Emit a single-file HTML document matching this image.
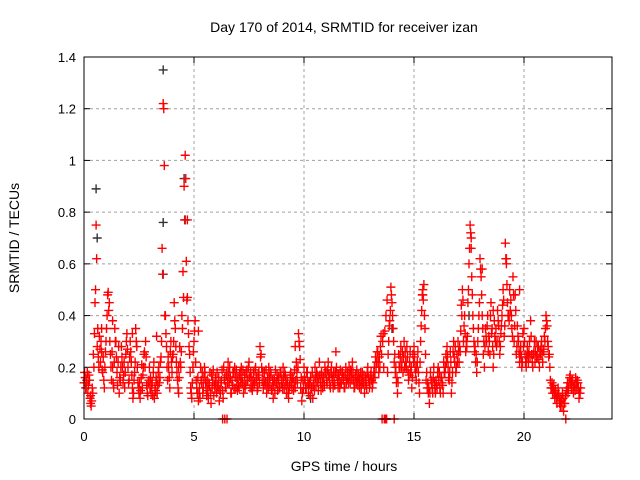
<!DOCTYPE html>
<html><head><meta charset="utf-8"><style>
body{margin:0;background:#fff;}
svg{display:block;font-family:"Liberation Sans",sans-serif;}
</style></head><body>
<svg id="chart" width="640" height="480" viewBox="0 0 640 480">
<rect width="640" height="480" fill="#fff"/>
<text x="344" y="32" font-size="14" text-anchor="middle">Day 170 of 2014, SRMTID for receiver izan</text>
<text x="19" y="238" font-size="14" text-anchor="middle" transform="rotate(-90 19 238)">SRMTID / TECUs</text>
<text x="344" y="471" font-size="14" text-anchor="middle">GPS time / hours</text>
<g id="grid"></g><g id="ticks"></g><g id="marks"></g>
<rect x="84" y="57" width="528" height="362" fill="none" stroke="#000" stroke-width="1"/>
</svg>
<script>
const xTicks=[0,5,10,15,20];
const yTicks=[0,0.2,0.4,0.6,0.8,1,1.2,1.4];
const yTickLabels=["0","0.2","0.4","0.6","0.8","1","1.2","1.4"];
const redStart=0, redStep=0.05;
const redValues=[
0.14,0.16,0.12,0.18,0.13,0.15,0.06,0.07,0.10,0.20,0.45,0.75,0.28,0.24,0.32,0.22,0.26,0.18,0.15,0.20,
0.30,0.40,0.49,0.45,0.25,0.15,0.20,0.12,0.35,0.30,0.18,0.22,0.10,0.15,0.28,0.20,0.17,0.12,0.25,0.33,
0.20,0.15,0.30,0.22,0.12,0.10,0.18,0.35,0.28,0.14,0.10,0.08,0.16,0.12,0.20,0.26,0.30,0.13,0.09,0.15,
0.12,0.10,0.14,0.18,0.08,0.11,0.15,0.13,0.20,0.16,0.24,0.66,1.22,0.98,0.40,0.28,0.15,0.20,0.12,0.30,
0.18,0.25,0.45,0.35,0.22,0.15,0.10,0.28,0.20,0.40,0.57,0.90,1.02,0.61,0.47,0.33,0.25,0.12,0.08,0.20,
0.30,0.38,0.15,0.10,0.07,0.12,0.20,0.14,0.10,0.16,0.18,0.12,0.15,0.08,0.13,0.10,0.17,0.15,0.09,0.12,
0.14,0.18,0.12,0.07,0.10,0.15,0.11,0.20,0.16,0.12,0.18,0.22,0.14,0.16,0.10,0.13,0.18,0.20,0.12,0.15,
0.16,0.12,0.18,0.20,0.14,0.10,0.17,0.13,0.19,0.15,0.22,0.12,0.16,0.11,0.18,0.14,0.20,0.16,0.12,0.18,
0.28,0.25,0.15,0.12,0.18,0.14,0.10,0.16,0.20,0.13,0.17,0.12,0.08,0.15,0.19,0.14,0.11,0.16,0.12,0.18,
0.15,0.20,0.12,0.17,0.10,0.14,0.08,0.13,0.18,0.12,0.16,0.14,0.12,0.22,0.14,0.33,0.28,0.12,0.07,0.15,
0.20,0.15,0.12,0.18,0.10,0.14,0.16,0.12,0.08,0.15,0.20,0.13,0.17,0.11,0.22,0.14,0.18,0.12,0.16,0.20,
0.18,0.14,0.22,0.16,0.12,0.20,0.15,0.18,0.13,0.26,0.17,0.12,0.15,0.19,0.14,0.18,0.16,0.12,0.20,0.15,
0.16,0.20,0.14,0.18,0.22,0.15,0.12,0.17,0.19,0.13,0.16,0.15,0.12,0.18,0.14,0.10,0.16,0.12,0.20,0.15,
0.14,0.18,0.12,0.16,0.20,0.24,0.22,0.26,0.18,0.20,0.32,0.00,0.33,0.00,0.00,0.00,0.18,0.30,0.38,0.51,
0.45,0.35,0.22,0.18,0.14,0.10,0.25,0.20,0.28,0.22,0.18,0.30,0.26,0.20,0.24,0.15,0.22,0.18,0.12,0.25,
0.28,0.20,0.15,0.22,0.18,0.10,0.30,0.42,0.50,0.52,0.35,0.15,0.12,0.10,0.06,0.18,0.14,0.10,0.20,0.12,
0.15,0.12,0.20,0.18,0.10,0.16,0.13,0.22,0.18,0.25,0.28,0.20,0.15,0.26,0.10,0.18,0.30,0.22,0.18,0.25,
0.30,0.22,0.26,0.44,0.50,0.30,0.40,0.26,0.28,0.45,0.60,0.75,0.70,0.48,0.35,0.26,0.22,0.18,0.30,0.40,
0.62,0.55,0.40,0.25,0.20,0.35,0.30,0.40,0.32,0.25,0.45,0.35,0.20,0.38,0.30,0.28,0.42,0.36,0.25,0.33,
0.40,0.50,0.32,0.68,0.60,0.45,0.40,0.50,0.46,0.35,0.55,0.30,0.48,0.25,0.36,0.30,0.22,0.28,0.20,0.33,
0.35,0.25,0.20,0.28,0.22,0.30,0.38,0.25,0.20,0.26,0.22,0.30,0.24,0.28,0.20,0.25,0.30,0.22,0.26,0.30,
0.40,0.36,0.28,0.25,0.15,0.12,0.10,0.13,0.08,0.10,0.06,0.12,0.08,0.05,0.07,0.10,0.03,0.06,0.09,0.12,
0.10,0.14,0.17,0.12,0.15,0.10,0.13,0.16,0.12,0.14,0.08,0.10];
const red2Start=0.025, red2Step=0.05;
const redValues2=[
0.18,0.12,0.15,0.10,0.17,0.08,0.05,0.12,0.25,0.33,0.50,0.62,0.35,0.20,0.27,0.30,0.19,0.24,0.12,0.26,
0.35,0.48,0.42,0.30,0.20,0.26,0.14,0.22,0.30,0.24,0.13,0.28,0.16,0.20,0.24,0.14,0.22,0.18,0.30,0.27,
0.14,0.24,0.26,0.17,0.08,0.15,0.22,0.30,0.20,0.12,0.14,0.11,0.21,0.17,0.25,0.20,0.24,0.10,0.14,0.20,
0.16,0.13,0.09,0.22,0.12,0.16,0.10,0.18,0.14,0.22,0.30,0.56,1.20,0.40,0.33,0.20,0.24,0.16,0.26,0.22,
0.24,0.30,0.38,0.28,0.18,0.12,0.16,0.22,0.26,0.35,0.47,0.77,0.93,0.46,0.38,0.28,0.18,0.10,0.14,0.26,
0.34,0.22,0.12,0.16,0.10,0.08,0.15,0.18,0.12,0.20,0.14,0.09,0.11,0.14,0.18,0.06,0.12,0.19,0.13,0.16,
0.10,0.13,0.16,0.11,0.14,0.19,0.08,0.15,0.12,0.17,0.14,0.18,0.20,0.10,0.15,0.18,0.12,0.16,0.19,0.11,
0.13,0.17,0.14,0.16,0.19,0.13,0.12,0.18,0.15,0.20,0.16,0.18,0.12,0.15,0.13,0.19,0.15,0.11,0.17,0.14,
0.24,0.20,0.18,0.15,0.13,0.19,0.14,0.12,0.16,0.18,0.11,0.15,0.13,0.10,0.14,0.17,0.15,0.12,0.18,0.14,
0.12,0.16,0.18,0.13,0.15,0.10,0.12,0.17,0.14,0.16,0.11,0.19,0.15,0.18,0.20,0.30,0.23,0.16,0.10,0.12,
0.16,0.12,0.18,0.14,0.13,0.09,0.12,0.18,0.13,0.11,0.16,0.18,0.14,0.16,0.17,0.11,0.14,0.16,0.13,0.18,
0.15,0.19,0.17,0.13,0.18,0.16,0.12,0.14,0.18,0.20,0.15,0.17,0.12,0.14,0.18,0.15,0.12,0.17,0.14,0.18,
0.14,0.17,0.19,0.15,0.18,0.12,0.16,0.14,0.15,0.17,0.12,0.18,0.15,0.14,0.17,0.13,0.15,0.18,0.16,0.12,
0.17,0.15,0.14,0.18,0.16,0.20,0.26,0.22,0.24,0.28,0.25,0.30,0.20,0.34,0.40,0.46,0.25,0.36,0.42,0.48,
0.40,0.30,0.25,0.20,0.16,0.14,0.20,0.24,0.20,0.26,0.24,0.20,0.22,0.28,0.19,0.17,0.26,0.20,0.16,0.22,
0.24,0.18,0.20,0.26,0.14,0.22,0.36,0.48,0.46,0.40,0.25,0.18,0.14,0.12,0.10,0.15,0.12,0.16,0.14,0.10,
0.13,0.18,0.15,0.12,0.16,0.14,0.10,0.18,0.20,0.22,0.24,0.16,0.18,0.22,0.14,0.26,0.24,0.28,0.20,0.22,
0.26,0.28,0.34,0.40,0.46,0.36,0.33,0.30,0.32,0.50,0.66,0.72,0.55,0.40,0.30,0.28,0.25,0.22,0.35,0.45,
0.58,0.48,0.35,0.30,0.28,0.32,0.36,0.26,0.30,0.40,0.33,0.28,0.25,0.32,0.35,0.30,0.38,0.30,0.28,0.36,
0.44,0.46,0.36,0.62,0.52,0.40,0.38,0.42,0.40,0.32,0.48,0.36,0.42,0.28,0.32,0.26,0.25,0.24,0.22,0.28,
0.30,0.22,0.24,0.25,0.26,0.24,0.32,0.22,0.25,0.30,0.26,0.24,0.28,0.23,0.26,0.28,0.25,0.27,0.32,0.35,
0.38,0.30,0.24,0.20,0.12,0.14,0.12,0.10,0.11,0.08,0.09,0.10,0.06,0.08,0.05,0.08,0.06,0.09,0.11,0.14,
0.12,0.16,0.14,0.15,0.12,0.13,0.11,0.14,0.15,0.12,0.10,0.12];
const redExtraT=[0.3,0.8,1.3,2.2,3.3,4.3,4.7,5.2,6.3,6.4,6.5,9.6,13.7,13.75,14.1,15.4,17.6,18.1,18.6,19.2,19.8,21.9];
const redExtraV=[0.09,0.35,0.38,0.33,0.32,0.20,0.77,0.34,0.0,0.0,0.0,0.28,0.0,0.0,0.0,0.48,0.66,0.58,0.42,0.62,0.50,0.0];
const blackT=[0.55,0.6,3.6,3.6,3.6,4.6,4.55,10.3,14.0,17.5];
const blackV=[0.89,0.70,1.35,0.76,0.56,0.77,0.93,0.08,0.35,0.40];

const X0=84,X1=612,Y0=419,Y1=57,XMAX=24,YMAX=1.4;
function xs(v){return X0+(X1-X0)*v/XMAX;}
function ys(v){return Y0-(Y0-Y1)*v/YMAX;}
const NS="http://www.w3.org/2000/svg";
function mk(tag,attrs,parent){const e=document.createElementNS(NS,tag);for(const k in attrs)e.setAttribute(k,attrs[k]);parent.appendChild(e);return e;}
const grid=document.getElementById('grid'),ticks=document.getElementById('ticks'),marks=document.getElementById('marks');
xTicks.forEach(t=>{
  const x=xs(t);
  if(t>0){const g=mk('line',{x1:x,x2:x,y1:Y1,y2:Y0,stroke:'#a0a0a0','stroke-dasharray':'3,3'},grid);
  
  }
  mk('line',{x1:x,x2:x,y1:Y0,y2:Y0-6,stroke:'#000'},ticks);
  mk('line',{x1:x,x2:x,y1:Y1,y2:Y1+6,stroke:'#000'},ticks);
  const l=mk('text',{x:x,y:Y0+22,'font-size':13,'text-anchor':'middle'},ticks);
  l.textContent=String(t);
  
  
});
yTicks.forEach((t,i)=>{
  const y=ys(t);
  if(t>0&&t<YMAX){const g=mk('line',{x1:X0,x2:X1,y1:y,y2:y,stroke:'#a0a0a0','stroke-dasharray':'3,3'},grid);
  
  }
  mk('line',{x1:X0,x2:X0+6,y1:y,y2:y,stroke:'#000'},ticks);
  mk('line',{x1:X1,x2:X1-6,y1:y,y2:y,stroke:'#000'},ticks);
  const l=mk('text',{x:X0-8,y:y+5,'font-size':13,'text-anchor':'end'},ticks);
  l.textContent=yTickLabels[i];
  
  
});
function plus(t,v,color,name){
  const x=xs(t),y=ys(v);
  const p=mk('path',{d:`M${x-4.5},${y}h9M${x},${y-4.5}v9`,stroke:color,'stroke-width':1.4,fill:'none'},marks);
  
  
}
blackT.forEach((t,i)=>plus(t,blackV[i],'#333','black-point'));
redValues.forEach((v,i)=>plus(redStart+i*redStep,v,'#f00','red-point'));
redValues2.forEach((v,i)=>plus(red2Start+i*red2Step,v,'#f00','red-point'));
redExtraT.forEach((t,i)=>plus(t,redExtraV[i],'#f00','red-point'));
</script>
</body></html>
